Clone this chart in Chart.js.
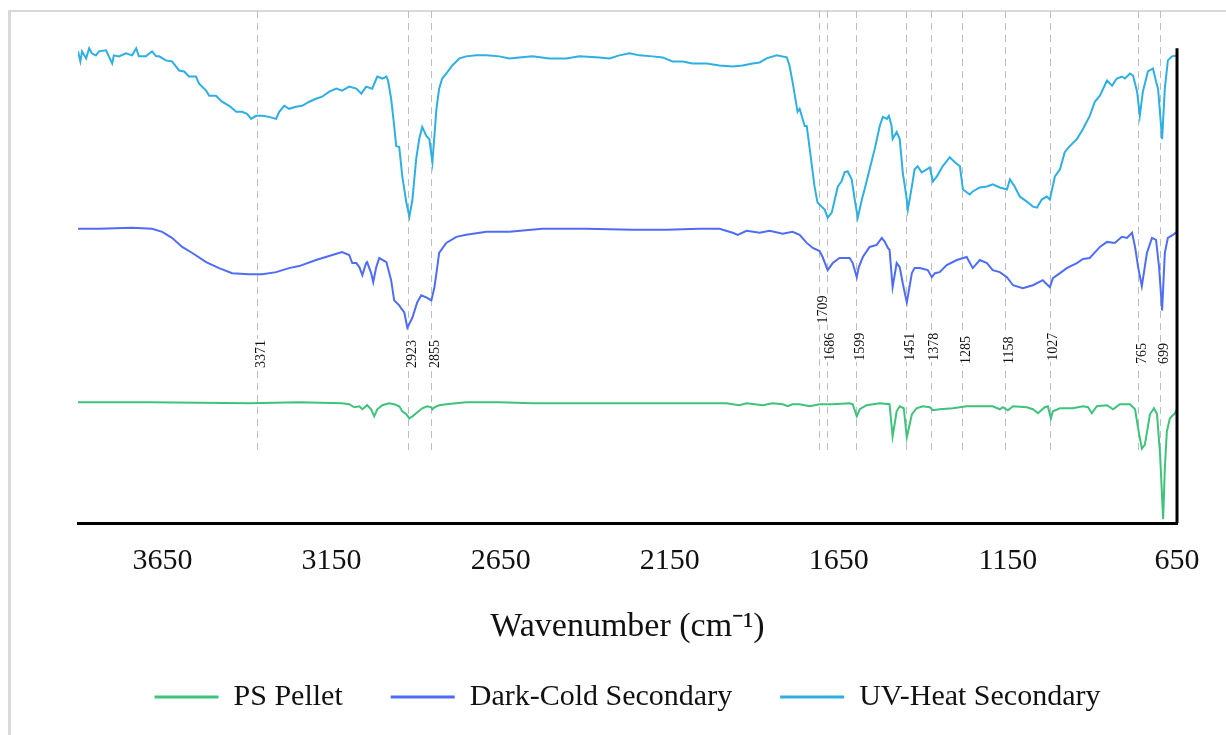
<!DOCTYPE html>
<html>
<head>
<meta charset="utf-8">
<title>FTIR spectra</title>
<script src="https://cdn.jsdelivr.net/npm/chart.js@4.4.1/dist/chart.umd.min.js"></script>
<style>
  html, body { margin: 0; background: #fff; overflow: hidden; }
  .frame { position: absolute; left: 8px; top: 10px; width: 1300px; height: 800px;
           border-left: 3px solid #d9d9d9; border-top: 2px solid #d9d9d9; }
  #spectra { position: absolute; left: 0; top: 0; }
</style>
</head>
<body>
<div class="frame"></div>
<canvas id="spectra" width="1226" height="735"></canvas>
<script>
// Stacked FTIR spectra, offset vertically (arbitrary transmittance units)

const seriesNames = ['PS Pellet', 'Dark-Cold Secondary', 'UV-Heat Secondary'];
const seriesColors = ['#3fc27c', '#4f6cf5', '#2eafe2'];

const xTicks = [3650, 3150, 2650, 2150, 1650, 1150, 650];

// assigned bands (cm-1)
const peakWavenumbers = [3371, 2923, 2855, 1709, 1686, 1599, 1451, 1378, 1285, 1158, 1027, 765, 699];

// [wavenumber, offset signal]
const psPellet = [
  [3900,120],[3690,120],[3394,119],[3246,120],[3119,119],[3098,118],[3083,115],[3068,116],[3059,113],
  [3045,117],[3033,113],[3024,106],[3015,113],[3000,117],[2980,119],[2965,118],[2950,116],[2941,111],
  [2929,108],[2920,104],[2911,106],[2900,109],[2882,114],[2867,116],[2855,115],[2852,113],[2846,115],
  [2832,117],[2811,118],[2752,120],[2654,120],[2556,119],[2358,119],[2062,119],[1982,119],[1964,118],
  [1944,117],[1923,119],[1875,117],[1846,119],[1816,118],[1801,116],[1787,118],[1766,118],[1736,116],
  [1707,118],[1668,118],[1618,119],[1609,118],[1597,106],[1588,113],[1568,117],[1529,119],[1500,118],
  [1491,86],[1479,111],[1470,116],[1458,114],[1449,85],[1434,108],[1420,114],[1402,116],[1381,115],
  [1372,112],[1352,113],[1313,114],[1272,116],[1195,116],[1174,113],[1165,115],[1150,112],[1135,116],
  [1094,115],[1076,113],[1061,109],[1041,115],[1032,116],[1023,104],[1017,111],[996,114],[958,114],
  [928,116],[913,115],[902,109],[887,116],[857,117],[839,113],[819,118],[789,118],[774,113],[765,94],
  [754,74],[745,78],[730,108],[718,114],[709,108],[700,68],[691,4],[686,54],[680,91],[671,104],
  [656,109],[650,113]
];

const darkCold = [
  [3900,292],[3838,292],[3740,293],[3681,292],[3651,289],[3622,283],[3592,274],[3562,268],[3521,259],
  [3483,253],[3444,248],[3394,247],[3355,247],[3314,249],[3276,253],[3246,255],[3196,261],[3148,266],
  [3119,269],[3098,266],[3089,258],[3077,258],[3068,254],[3059,246],[3048,258],[3045,259],[3033,248],
  [3027,239],[3018,254],[3009,263],[2988,259],[2974,241],[2965,221],[2950,216],[2944,213],[2935,209],
  [2926,194],[2911,204],[2897,219],[2885,226],[2870,224],[2855,221],[2846,234],[2840,248],[2832,268],
  [2811,278],[2781,284],[2752,286],[2692,289],[2624,289],[2527,292],[2396,292],[2260,291],[2160,291],
  [2062,292],[2003,292],[1964,288],[1949,286],[1923,290],[1884,288],[1855,290],[1816,287],[1787,289],
  [1766,286],[1745,278],[1727,273],[1707,270],[1698,264],[1683,251],[1668,258],[1648,263],[1618,263],
  [1609,258],[1597,244],[1591,254],[1579,264],[1559,274],[1538,276],[1523,283],[1514,279],[1505,273],
  [1500,271],[1491,234],[1479,258],[1470,254],[1461,238],[1449,219],[1434,248],[1426,253],[1411,253],
  [1387,251],[1375,244],[1366,248],[1352,249],[1331,256],[1301,261],[1272,264],[1254,253],[1233,261],
  [1212,258],[1195,251],[1174,249],[1153,244],[1135,236],[1106,233],[1076,236],[1047,241],[1026,234],
  [1017,243],[996,248],[976,253],[946,258],[928,262],[908,263],[878,274],[857,279],[834,278],[813,284],
  [798,283],[783,288],[774,274],[765,254],[754,235],[739,268],[724,283],[712,281],[703,254],[694,211],
  [686,268],[677,283],[662,286],[650,289]
];

const uvHeat = [
  [3900,468],[3893,458],[3888,468],[3876,461],[3867,471],[3859,466],[3847,464],[3838,468],[3817,469],
  [3799,456],[3794,464],[3779,463],[3758,466],[3740,464],[3728,471],[3720,463],[3699,463],[3681,468],
  [3669,463],[3660,463],[3640,459],[3622,458],[3601,449],[3586,448],[3572,443],[3551,443],[3542,436],
  [3521,429],[3512,424],[3492,424],[3474,418],[3453,414],[3432,408],[3415,408],[3400,406],[3388,401],
  [3373,404],[3355,404],[3335,403],[3314,401],[3305,408],[3290,414],[3276,411],[3255,413],[3237,414],
  [3216,418],[3196,421],[3178,423],[3157,428],[3136,431],[3119,429],[3098,433],[3077,431],[3062,426],
  [3048,433],[3030,431],[3015,443],[3000,441],[2988,443],[2983,439],[2974,421],[2965,394],[2959,374],
  [2950,373],[2941,344],[2929,318],[2920,304],[2911,321],[2900,361],[2891,381],[2882,393],[2870,384],
  [2861,381],[2852,358],[2840,411],[2832,431],[2823,441],[2811,446],[2793,454],[2772,461],[2752,463],
  [2722,464],[2692,464],[2654,463],[2624,461],[2595,462],[2556,463],[2506,461],[2456,461],[2417,463],
  [2358,462],[2328,461],[2299,464],[2269,466],[2240,464],[2201,463],[2171,462],[2142,458],[2112,458],
  [2083,456],[2041,456],[2003,454],[1964,453],[1935,454],[1905,456],[1884,457],[1864,461],[1834,464],
  [1804,462],[1796,454],[1787,438],[1772,408],[1766,411],[1751,394],[1745,394],[1736,371],[1722,334],
  [1713,318],[1701,314],[1692,311],[1683,303],[1671,308],[1662,321],[1653,334],[1642,339],[1633,348],
  [1624,349],[1612,341],[1603,321],[1594,303],[1582,321],[1574,331],[1559,351],[1544,371],[1529,394],
  [1520,403],[1508,401],[1502,404],[1494,394],[1491,381],[1479,388],[1470,381],[1461,348],[1449,321],
  [1446,311],[1434,334],[1426,351],[1417,354],[1405,348],[1390,351],[1381,353],[1372,339],[1360,344],
  [1343,354],[1322,363],[1307,358],[1292,354],[1283,331],[1263,326],[1254,329],[1233,333],[1212,334],
  [1195,336],[1174,333],[1153,331],[1144,341],[1130,334],[1115,324],[1094,319],[1076,314],[1064,313],
  [1050,321],[1035,324],[1026,321],[1011,344],[996,351],[982,368],[967,374],[946,381],[928,391],
  [908,404],[893,418],[878,424],[857,439],[842,434],[828,441],[813,443],[804,441],[789,446],[780,444],
  [768,428],[760,404],[751,428],[736,448],[721,451],[712,438],[706,431],[694,381],[686,431],[677,459],
  [665,463],[650,464]
];

// marker layout, in y-axis units
const markerTop = 508;
const markerFloor = 70;
const axisTop = 471;
const peakLabelBase = [154, 154, 154, 198, 161, 161, 161, 161, 158, 158, 161, 158, 158];

const serif = '"Liberation Serif", "Times New Roman", serif';

const peakMarkers = {
  id: 'peakMarkers',
  beforeDatasetsDraw(chart) {
    const { ctx, scales: { x, y } } = chart;
    ctx.save();
    ctx.strokeStyle = '#bdbdbd';
    ctx.lineWidth = 1;
    ctx.setLineDash([7, 5]);
    peakWavenumbers.forEach(wn => {
      const px = Math.round(x.getPixelForValue(wn)) + 0.5;
      ctx.beginPath();
      ctx.moveTo(px, y.getPixelForValue(markerTop));
      ctx.lineTo(px, y.getPixelForValue(markerFloor));
      ctx.stroke();
    });
    ctx.restore();
  },
  afterDatasetsDraw(chart) {
    const { ctx, chartArea, scales: { x, y } } = chart;
    ctx.save();

    // vertical axis sits on the right because the x axis is reversed
    ctx.strokeStyle = '#000';
    ctx.lineWidth = 3;
    ctx.beginPath();
    ctx.moveTo(chartArea.right, y.getPixelForValue(axisTop));
    ctx.lineTo(chartArea.right, chartArea.bottom);
    ctx.stroke();

    ctx.font = '14px ' + serif;
    ctx.textBaseline = 'middle';
    ctx.textAlign = 'left';
    peakWavenumbers.forEach((wn, i) => {
      const text = String(wn);
      const w = ctx.measureText(text).width;
      ctx.save();
      ctx.translate(x.getPixelForValue(wn) + 4, y.getPixelForValue(peakLabelBase[i]));
      ctx.rotate(-Math.PI / 2);
      ctx.fillStyle = '#fff';
      ctx.fillRect(-1, -6, w + 2, 12);
      ctx.fillStyle = '#111';
      ctx.fillText(text, 0, 0);
      ctx.restore();
    });
    ctx.restore();
  }
};

const spectra = [psPellet, darkCold, uvHeat];

new Chart(document.getElementById('spectra'), {
  type: 'line',
  data: {
    datasets: spectra.map((rows, i) => ({
      label: seriesNames[i],
      data: rows.map(([x, y]) => ({ x, y })),
      borderColor: seriesColors[i],
      backgroundColor: seriesColors[i],
      borderWidth: 2,
      pointRadius: 0,
      tension: 0,
      fill: false
    }))
  },
  options: {
    responsive: false,
    animation: false,
    devicePixelRatio: 1,
    layout: { padding: { left: 78, right: 49, top: 11, bottom: 13 } },
    scales: {
      x: {
        type: 'linear',
        reverse: true,
        min: 650,
        max: 3900,
        afterBuildTicks: axis => { axis.ticks = xTicks.map(v => ({ value: v })); },
        grid: { display: false, drawTicks: false },
        border: { display: true, color: '#000', width: 3 },
        ticks: {
          padding: 20,
          color: '#111',
          font: { family: serif, size: 30 },
          maxRotation: 0,
          callback: v => String(v)
        },
        title: {
          display: true,
          text: 'Wavenumber (cm\u207B\u00B9)',
          color: '#111',
          font: { family: serif, size: 34 },
          padding: { top: 7, bottom: -13 }
        }
      },
      y: {
        display: false,
        min: 0,
        max: markerTop
      }
    },
    plugins: {
      legend: {
        position: 'bottom',
        labels: {
          boxWidth: 64,
          boxHeight: 3,
          padding: 48,
          color: '#111',
          font: { family: serif, size: 30 },
          generateLabels(chart) {
            return Chart.defaults.plugins.legend.labels.generateLabels(chart)
              .map(item => ({ ...item, lineWidth: 0 }));
          }
        }
      },
      tooltip: { enabled: false }
    }
  },
  plugins: [peakMarkers]
});
</script>
</body>
</html>
